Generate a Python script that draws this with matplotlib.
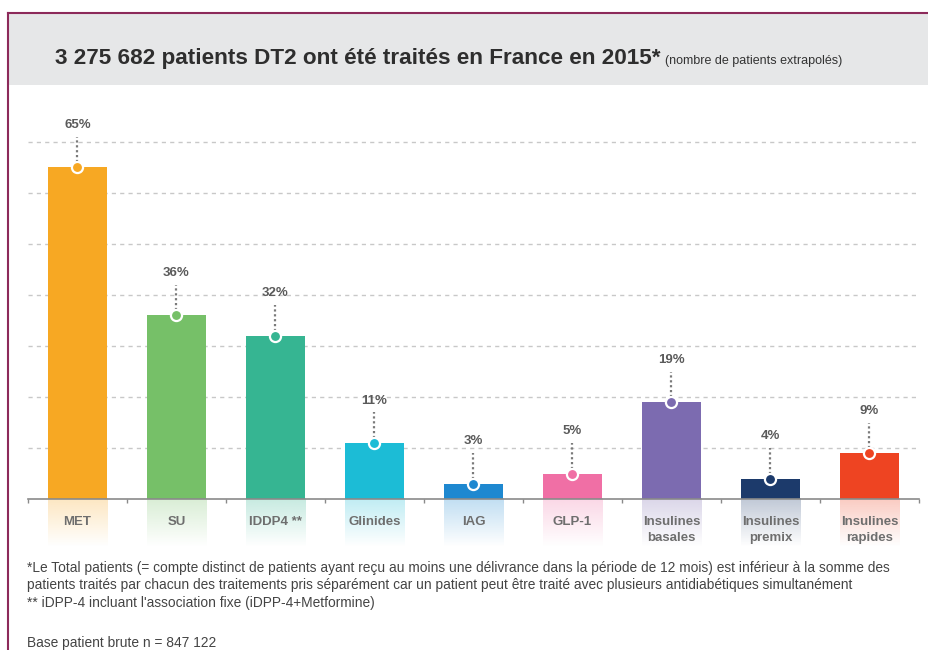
import numpy as np
import matplotlib.pyplot as plt
from matplotlib.colors import to_rgb
from matplotlib.patches import Rectangle
from matplotlib.lines import Line2D

plt.rcParams['font.family'] = ['Liberation Sans', 'DejaVu Sans']

# Part des patients DT2 traités par classe thérapeutique (%)
categories = ['MET', 'SU', 'IDDP4 **', 'Glinides', 'IAG', 'GLP-1',
              'Insulines\nbasales', 'Insulines\npremix', 'Insulines\nrapides']
pct = [65, 36, 32, 11, 3, 5, 19, 4, 9]
colors = ['#F7A823', '#76C068', '#36B592', '#1CBCD6', '#1E88D0',
          '#F06FA5', '#7C6BB0', '#1C3A6B', '#EE4422']

title = '3 275 682 patients DT2 ont été traités en France en 2015*'
subtitle = '(nombre de patients extrapolés)'
footnotes = ("*Le Total patients (= compte distinct de patients ayant reçu au moins une délivrance "
             "dans la période de 12 mois) est inférieur à la somme des\n"
             "patients traités par chacun des traitements pris séparément car un patient peut être "
             "traité avec plusieurs antidiabétiques simultanément\n"
             "** iDPP-4 incluant l'association fixe (iDPP-4+Metformine)")
base_note = 'Base patient brute n = 847 122'

W, H = 929, 650
fig = plt.figure(figsize=(W / 100, H / 100), dpi=100)

# header band + frame
fig.patches.append(Rectangle((8 / W, 1 - 85 / H), 1 - 8 / W, 72 / H,
                             transform=fig.transFigure, facecolor='#E6E7E8',
                             edgecolor='none', zorder=0))
fig.lines.append(Line2D([8 / W, 1], [1 - 13 / H] * 2, transform=fig.transFigure,
                        color='#8C2A5A', lw=1.5))
fig.lines.append(Line2D([8 / W] * 2, [0, 1 - 13 / H], transform=fig.transFigure,
                        color='#8C2A5A', lw=1.5))

ax = fig.add_axes([28 / W, 1 - 499 / H, (919 - 28) / W, (499 - 116.5) / H])
x = np.arange(len(categories))

# title, with the small note placed right after it on the same baseline
t = fig.text(55 / W, 1 - 64 / H, title, fontsize=16.2, fontweight='bold',
             color='#2E2E2E', ha='left', va='baseline')
fig.canvas.draw()
bb = t.get_window_extent()
fig.text((bb.x1 + 5) / W, 1 - 64 / H, subtitle, fontsize=9,
         color='#333333', ha='left', va='baseline')

for y in range(10, 80, 10):
    ax.axhline(y, color='#C8C8C8', lw=1, ls=(0, (3, 3)), zorder=0)

ax.bar(x, pct, width=0.6, color=colors, zorder=2)

# soft tinted fade under each label
for xi, c in zip(x, colors):
    grad = np.zeros((50, 1, 4))
    grad[:, 0, :3] = to_rgb(c)
    grad[:, 0, 3] = np.linspace(0.28, 0.0, 50)
    ax.imshow(grad, extent=(xi - 0.3, xi + 0.3, -9.5, 0), aspect='auto',
              clip_on=False, zorder=1, interpolation='bilinear')

for xi, v, c in zip(x, pct, colors):
    ax.plot([xi, xi], [v, v + 6], color='#7A7A7A', lw=1.6, ls=(0, (1, 1.2)),
            zorder=3, clip_on=False)
    ax.plot(xi, v, 'o', ms=8, mfc=c, mec='white', mew=1.6, zorder=4, clip_on=False)
    ax.text(xi, v + 8.3, f'{v}%', ha='center', va='center', fontsize=9.5,
            fontweight='bold', color='#5A5A5A')

ax.set_xlim(-0.5, len(categories) - 0.5)
ax.set_ylim(0, 75)
for s in ['top', 'right', 'left']:
    ax.spines[s].set_visible(False)
ax.spines['bottom'].set_color('#8A8A8A')
ax.spines['bottom'].set_linewidth(1.2)
ax.set_yticks([])
ax.set_xticks(np.arange(-0.5, len(categories), 1))
ax.set_xticklabels([])
ax.tick_params(axis='x', length=3, color='#8A8A8A', width=1)
ax.set_xticks(x, minor=True)
ax.set_xticklabels(categories, minor=True)
ax.tick_params(axis='x', which='minor', length=0, pad=12, labelsize=9.5,
               labelcolor='#6E6E6E')
for lbl in ax.get_xticklabels(minor=True):
    lbl.set_fontweight('bold')
    lbl.set_linespacing(1.5)
    lbl.set_va('top')

fig.text(27 / W, 1 - 561 / H, footnotes, fontsize=9.9, color='#444444',
         ha='left', va='top', linespacing=1.3)
fig.text(27 / W, 1 - 643 / H, base_note, fontsize=9.9, color='#444444',
         ha='left', va='center')

fig.savefig('out.png', dpi=100)
